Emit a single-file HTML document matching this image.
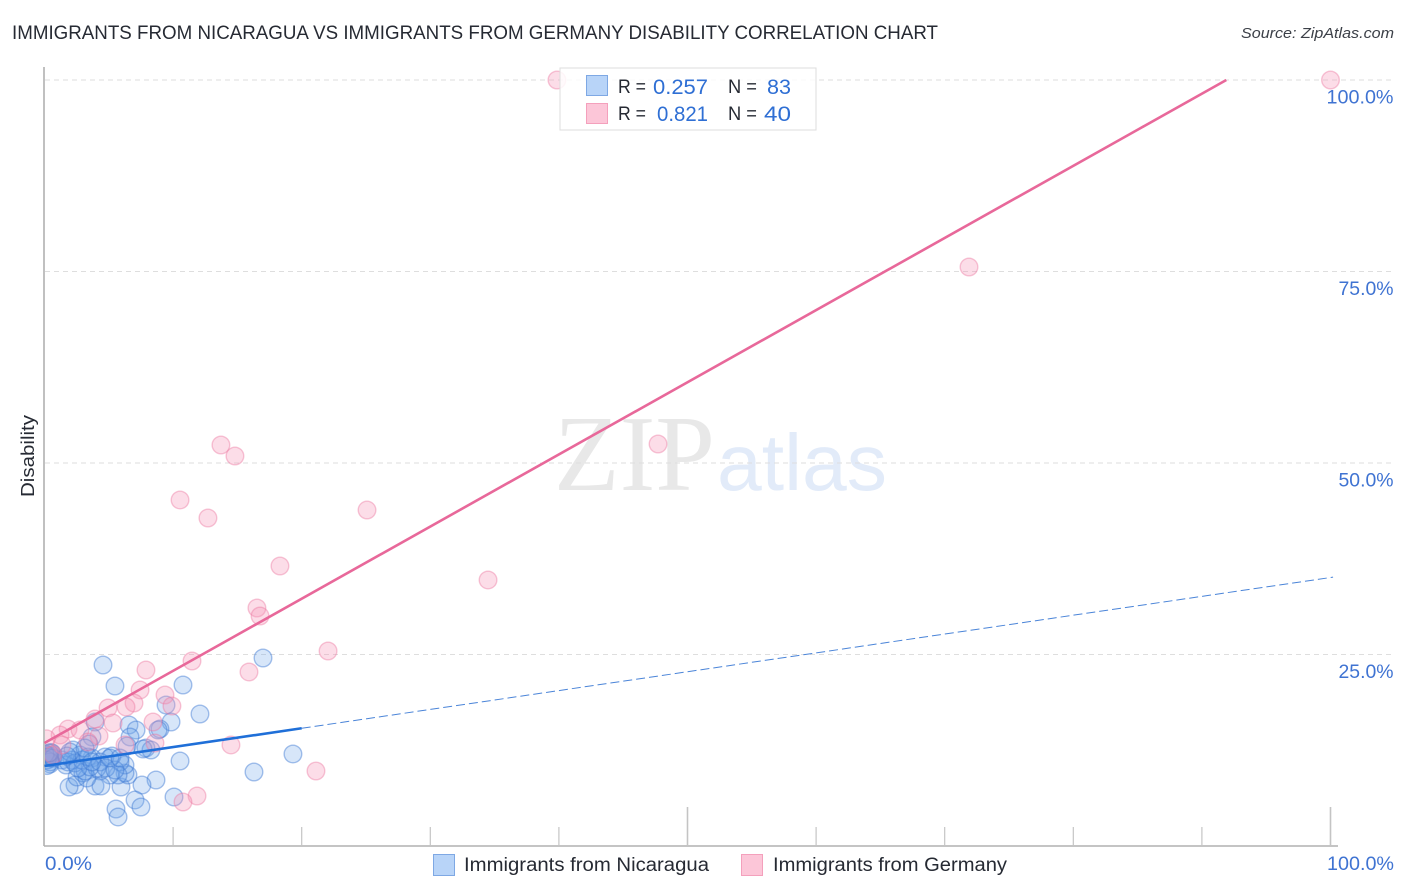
<!DOCTYPE html>
<html lang="en">
<head>
<meta charset="utf-8">
<title>Immigrants from Nicaragua vs Immigrants from Germany Disability Correlation Chart</title>
<style>
html,body{margin:0;padding:0;background:#fff;}
svg{display:block;font-family:"Liberation Sans",sans-serif;}
</style>
</head>
<body>
<svg id="chart" xmlns="http://www.w3.org/2000/svg" width="1406" height="892" viewBox="0 0 1406 892">
  <defs><clipPath id="plot-clip"><rect x="45" y="0" width="1361" height="846"/></clipPath></defs>
  <rect x="0" y="0" width="1406" height="892" fill="#ffffff"/>
  <text x="12" y="39" font-size="19" fill="#262a33" textLength="926" lengthAdjust="spacingAndGlyphs">IMMIGRANTS FROM NICARAGUA VS IMMIGRANTS FROM GERMANY DISABILITY CORRELATION CHART</text>
  <text x="1241" y="38" font-size="15" font-style="italic" fill="#3c4048" textLength="153" lengthAdjust="spacingAndGlyphs">Source: ZipAtlas.com</text>
  <g>
    <text x="554" y="490" font-family="'Liberation Serif',serif" font-size="108" fill="#e8e8e8" textLength="161" lengthAdjust="spacingAndGlyphs">ZIP</text>
    <text x="717" y="490" font-size="80" fill="#e2ebf9" textLength="170" lengthAdjust="spacingAndGlyphs">atlas</text>
  </g>
  <g id="grid"></g>
  <g id="axes"></g>
  <g id="pts" clip-path="url(#plot-clip)"></g>
  <g id="lines"></g>
  <text transform="translate(34 456) rotate(-90)" text-anchor="middle" font-size="18" fill="#262a33" textLength="82" lengthAdjust="spacingAndGlyphs">Disability</text>
  <g>
    <rect x="560" y="68" width="256" height="62" fill="#ffffff" fill-opacity="0.85" stroke="#dddddd" stroke-width="1"/>
    <rect x="586.5" y="75.5" width="21" height="20" fill="#b8d4f8" stroke="#7ea8e4" stroke-width="1"/>
    <rect x="586.5" y="103.5" width="21" height="20" fill="#fcc6d8" stroke="#f4a0bc" stroke-width="1"/>
    <text x="618" y="93" font-size="19" fill="#262a33" textLength="28" lengthAdjust="spacingAndGlyphs">R =</text>
    <text x="653" y="94" font-size="21" fill="#2f6fd4" textLength="55" lengthAdjust="spacingAndGlyphs">0.257</text>
    <text x="728" y="93" font-size="19" fill="#262a33" textLength="29" lengthAdjust="spacingAndGlyphs">N =</text>
    <text x="767" y="94" font-size="21" fill="#2f6fd4" textLength="24" lengthAdjust="spacingAndGlyphs">83</text>
    <text x="618" y="120" font-size="19" fill="#262a33" textLength="28" lengthAdjust="spacingAndGlyphs">R =</text>
    <text x="657" y="121" font-size="21" fill="#2f6fd4" textLength="51" lengthAdjust="spacingAndGlyphs">0.821</text>
    <text x="728" y="120" font-size="19" fill="#262a33" textLength="29" lengthAdjust="spacingAndGlyphs">N =</text>
    <text x="764" y="121" font-size="21" fill="#2f6fd4" textLength="27" lengthAdjust="spacingAndGlyphs">40</text>
  </g>
  <g>
    <rect x="433.5" y="854.5" width="21" height="21" fill="#b8d4f8" stroke="#7ea8e4" stroke-width="1"/>
    <text x="464" y="871" font-size="19" fill="#262a33" textLength="245" lengthAdjust="spacingAndGlyphs">Immigrants from Nicaragua</text>
    <rect x="741.5" y="854.5" width="21" height="21" fill="#fcc6d8" stroke="#f4a0bc" stroke-width="1"/>
    <text x="773" y="871" font-size="19" fill="#262a33" textLength="234" lengthAdjust="spacingAndGlyphs">Immigrants from Germany</text>
  </g>
</svg>
<script>
const xTicks = [0,10,20,30,40,50,60,70,80,90,100];
const yTickValues = [25,50,75,100];
const yTickLabels = ["25.0%","50.0%","75.0%","100.0%"];
const xEndLabels = ["0.0%","100.0%"];
const nicaraguaX = [4.55,5.48,10.77,12.09,16.99,19.32,16.29,9.45,9.84,8.98,6.57,3.93,3.69,3.46,7.12,6.65,6.42,7.89,8.28,10.54,8.67,7.58,10.07,7.04,7.50,5.56,5.72,5.95,6.49,6.26,6.26,5.87,5.25,4.70,5.72,5.09,4.32,3.93,4.39,2.37,1.91,2.53,2.99,3.30,3.15,8.83,7.66,3.69,4.08,3.54,2.22,2.76,2.14,1.67,0.43,0.20,0.43,0.12,0.27,0.58,0.60,1.36,1.83,2.37,2.92,3.38,2.60,1.98,0.50,0.30,0.19,0.43,0.04,0.66,0.35,3.15,4.32,4.78,5.48,3.69,1.75,5.09,5.87];
const nicaraguaY = [23.63,20.89,21.02,17.23,24.54,12.01,9.66,18.41,16.19,15.27,15.80,16.19,14.23,13.32,15.14,14.23,13.05,12.79,12.53,11.10,8.62,7.96,6.40,6.01,5.09,4.83,3.79,7.70,9.27,9.53,10.57,10.97,11.75,11.62,9.27,9.27,9.79,7.83,7.83,7.96,7.70,9.01,9.53,8.88,9.79,15.14,12.66,11.49,10.18,10.31,12.53,11.88,11.23,10.57,10.70,10.50,11.49,11.62,11.88,12.14,11.75,11.23,10.97,10.84,11.23,11.62,10.18,12.27,12.20,11.62,11.23,10.97,12.01,11.49,12.14,12.79,10.97,10.18,9.92,10.97,11.75,11.49,11.49];
const germanyX = [39.85,100,71.89,47.71,13.72,14.81,10.54,12.71,25.08,18.31,34.49,16.52,16.76,22.05,15.90,7.89,11.47,7.43,9.37,9.91,6.96,6.34,4.94,3.93,5.33,8.44,4.24,6.26,8.59,14.50,21.11,11.86,10.77,1.83,2.76,1.21,0.15,3.38,1.36,0.66];
const germanyY = [100,100,75.59,52.48,52.35,50.91,45.17,42.82,43.86,36.55,34.73,31.07,30.03,25.46,22.72,22.98,24.15,20.37,19.71,18.28,18.67,18.15,18.02,16.58,16.06,16.19,14.36,13.19,13.45,13.19,9.79,6.53,5.74,15.27,15.14,14.49,14.00,13.58,13.19,11.88];
const nicaraguaFit = [10.45,0.246];
const germanyFit = [13.45,0.9418];

const NS = "http://www.w3.org/2000/svg";
const sx = v => 44.5 + v * 12.86;
const sy = v => 846 - v * 7.66;
function mk(parent, tag, attrs, text){
  const el = document.createElementNS(NS, tag);
  for (const k in attrs) el.setAttribute(k, attrs[k]);
  if (text !== undefined) el.textContent = text;
  parent.appendChild(el);
  return el;
}
const grid = document.getElementById("grid");
const axes = document.getElementById("axes");
const pts = document.getElementById("pts");
const lines = document.getElementById("lines");

yTickValues.forEach((v,i) => {
  const g = mk(grid, "line", {x1:45,x2:1393,y1:sy(v),y2:sy(v),stroke:"#dedede","stroke-width":1,"stroke-dasharray":"5 4"});
  
  
  const t = mk(axes, "text", {x:1393.5,y:sy(v)+23.5,"text-anchor":"end","font-size":19,fill:"#3f73d2",textLength:v===100?67:55,lengthAdjust:"spacingAndGlyphs"}, yTickLabels[i]);
  
  
});

const yAxis = mk(axes, "line", {x1:44,x2:44,y1:67,y2:846,stroke:"#b0b0b0","stroke-width":1.6});


const xAxis = mk(axes, "line", {x1:44,x2:1338,y1:846,y2:846,stroke:"#b0b0b0","stroke-width":1.6});



xTicks.forEach(v => {
  if (v === 0) return;
  const top = (v === 50 || v === 100) ? 807 : 827;
  const tk = mk(axes, "line", {x1:sx(v),x2:sx(v),y1:top,y2:846,stroke:"#c4c4c4","stroke-width":(v===50||v===100)?1.6:1.2});
  
  
});

const xl0 = mk(axes, "text", {x:45,y:870,"font-size":19,fill:"#3f73d2",textLength:47,lengthAdjust:"spacingAndGlyphs"}, xEndLabels[0]);


const xl1 = mk(axes, "text", {x:1394,y:870,"text-anchor":"end","font-size":19,fill:"#3f73d2",textLength:67,lengthAdjust:"spacingAndGlyphs"}, xEndLabels[1]);



nicaraguaX.forEach((v,i) => {
  const c = mk(pts, "circle", {cx:sx(v),cy:sy(nicaraguaY[i]),r:8.8,fill:"rgba(110,165,235,0.28)",stroke:"rgba(60,120,210,0.45)","stroke-width":1.4});
  
  
});
germanyX.forEach((v,i) => {
  const c = mk(pts, "circle", {cx:sx(v),cy:sy(germanyY[i]),r:8.8,fill:"rgba(245,150,185,0.32)",stroke:"rgba(235,120,160,0.42)","stroke-width":1.4});
  
  
});

const fit = (f,x) => f[0] + f[1]*x;
const blueDash = mk(lines, "line", {x1:sx(20),y1:sy(fit(nicaraguaFit,20)),x2:sx(100.2),y2:sy(fit(nicaraguaFit,100.2)),stroke:"#4a84d8","stroke-width":1,"stroke-dasharray":"9 4"});


const blueSolid = mk(lines, "line", {x1:sx(0),y1:sy(fit(nicaraguaFit,0)),x2:sx(20),y2:sy(fit(nicaraguaFit,20)),stroke:"#1f6fd8","stroke-width":2.6});


const pinkEnd = (100 - germanyFit[0]) / germanyFit[1];
const pinkLine = mk(lines, "line", {x1:sx(0),y1:sy(fit(germanyFit,0)),x2:sx(pinkEnd),y2:sy(100),stroke:"#e8689a","stroke-width":2.6});


</script>
</body>
</html>
